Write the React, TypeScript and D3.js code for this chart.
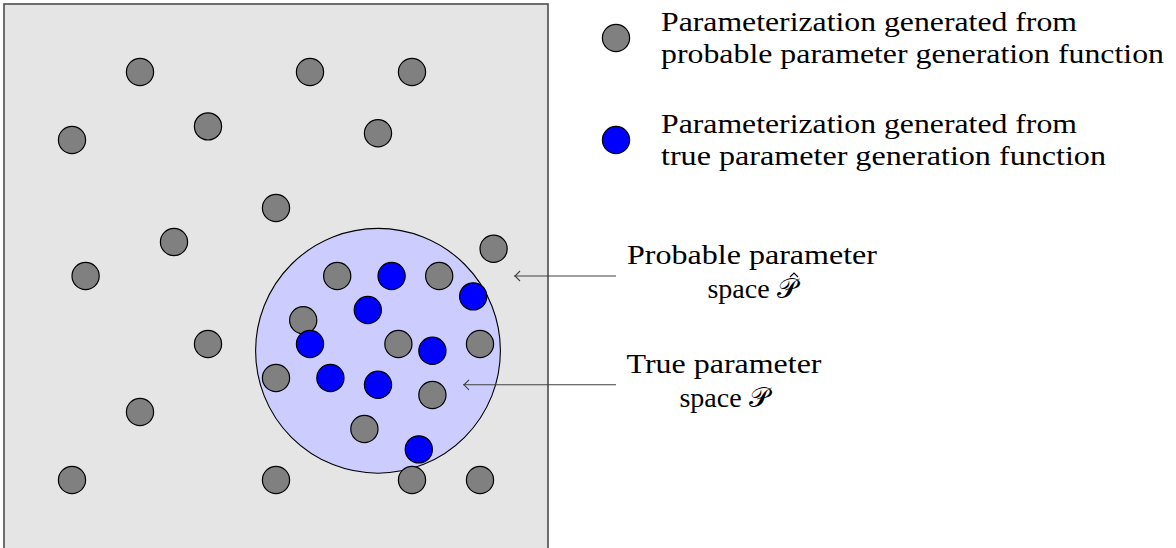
import * as d3 from "d3";
import React from "react";

// points in picture units (box is 16 x 16, y up)
const probX = [4, 9, 12, 2, 6, 11, 8, 5, 14.4, 2.4, 6, 4, 2, 8, 12, 14, 9.8, 12.8, 8.8, 11.6, 14, 8, 12.6, 10.6];
const probY = [14, 14, 14, 12, 12.4, 12.2, 10, 9, 8.8, 8, 6, 4, 2, 2, 2, 2, 8, 8, 6.7, 6, 6, 5, 4.5, 3.5];
const trueX = [11.4, 10.7, 13.8, 9, 12.6, 9.6, 11, 12.2];
const trueY = [8, 7, 7.4, 6, 5.8, 5, 4.8, 2.9];

// true parameter space disc
const spaceCenter = [11, 5.8];
const spaceRadius = 3.6;

const legendLabels = [
  ["Parameterization generated from", "probable parameter generation function"],
  ["Parameterization generated from", "true parameter generation function"],
];
const legendY = [15, 12];
const legendColors = ["#808080", "#0000ff"];

const annoLabels = ["Probable parameter", "True parameter"];
const annoTargetX = [15, 13.5];
const annoY = [8, 4.8];

const FONT = "Liberation Serif";

export default function App() {
  const width = 1176;
  const height = 548;

  const x = d3.scaleLinear().domain([0, 16]).range([4, 548]);
  const y = d3.scaleLinear().domain([0, 16]).range([548, 4]);
  const r = x(0.4) - x(0);

  const prob = probX.map((d, i) => ({ x: d, y: probY[i] }));
  const tru = trueX.map((d, i) => ({ x: d, y: trueY[i] }));

  const arrowStart = x(18);

  return (
    <svg
      width={width}
      height={height}
      style={{ position: "absolute", left: 0, top: 0, background: "#fff" }}
      fontFamily={FONT}
    >
      <rect x={x(0)} y={y(16)} width={x(16) - x(0)} height={y(0) - y(16) + 10}
        fill="#e5e5e5" stroke="#4d4d4d" strokeWidth={1.6} />

      <circle cx={x(spaceCenter[0])} cy={y(spaceCenter[1])} r={x(spaceRadius) - x(0)}
        fill="#ccccff" stroke="#000" strokeWidth={1.1} />

      {prob.map((d, i) => (
        <circle key={"p" + i} cx={x(d.x)} cy={y(d.y)} r={r}
          fill="#808080" stroke="#000" strokeWidth={1.2} />
      ))}
      {tru.map((d, i) => (
        <circle key={"t" + i} cx={x(d.x)} cy={y(d.y)} r={r}
          fill="#0000ff" stroke="#000" strokeWidth={1.2} />
      ))}

      {/* legend */}
      {legendLabels.map((lines, i) => (
        <g key={"lg" + i}>
          <circle cx={x(18)} cy={y(legendY[i])} r={r}
            fill={legendColors[i]} stroke="#000" strokeWidth={1.2} />
          <text x={x(18) + 45} y={y(legendY[i]) - 7} fontSize={28}
            textLength={416} lengthAdjust="spacingAndGlyphs">{lines[0]}</text>
          <text x={x(18) + 45} y={y(legendY[i]) + 25} fontSize={28}
            textLength={i === 0 ? 503 : 445} lengthAdjust="spacingAndGlyphs">{lines[1]}</text>
        </g>
      ))}

      {/* annotations */}
      {annoLabels.map((lab, i) => {
        const ay = y(annoY[i]);
        const cx = i === 0 ? 752 : 724;
        const tx = x(annoTargetX[i]);
        return (
          <g key={"an" + i}>
            <line x1={arrowStart} x2={tx} y1={ay} y2={ay}
              stroke="#404040" strokeWidth={1.1} />
            <path d={`M${tx + 6},${ay - 5} L${tx + 1},${ay} L${tx + 6},${ay + 5}`}
              fill="none" stroke="#404040" strokeWidth={1.1} />
            <text x={cx} y={ay - 12} textAnchor="middle" fontSize={28}
              textLength={i === 0 ? 250 : 195} lengthAdjust="spacingAndGlyphs">{lab}</text>
            <text x={cx} y={ay + 22} textAnchor="middle" fontSize={28}>
              space <tspan fontFamily="DejaVu Sans">𝒫</tspan>
            </text>
            {i === 0 && (
              <path d={`M${cx + 38},${ay + 1} L${cx + 42},${ay - 3} L${cx + 46},${ay + 1}`}
                fill="none" stroke="#000" strokeWidth={1.2} />
            )}
          </g>
        );
      })}
    </svg>
  );
}
